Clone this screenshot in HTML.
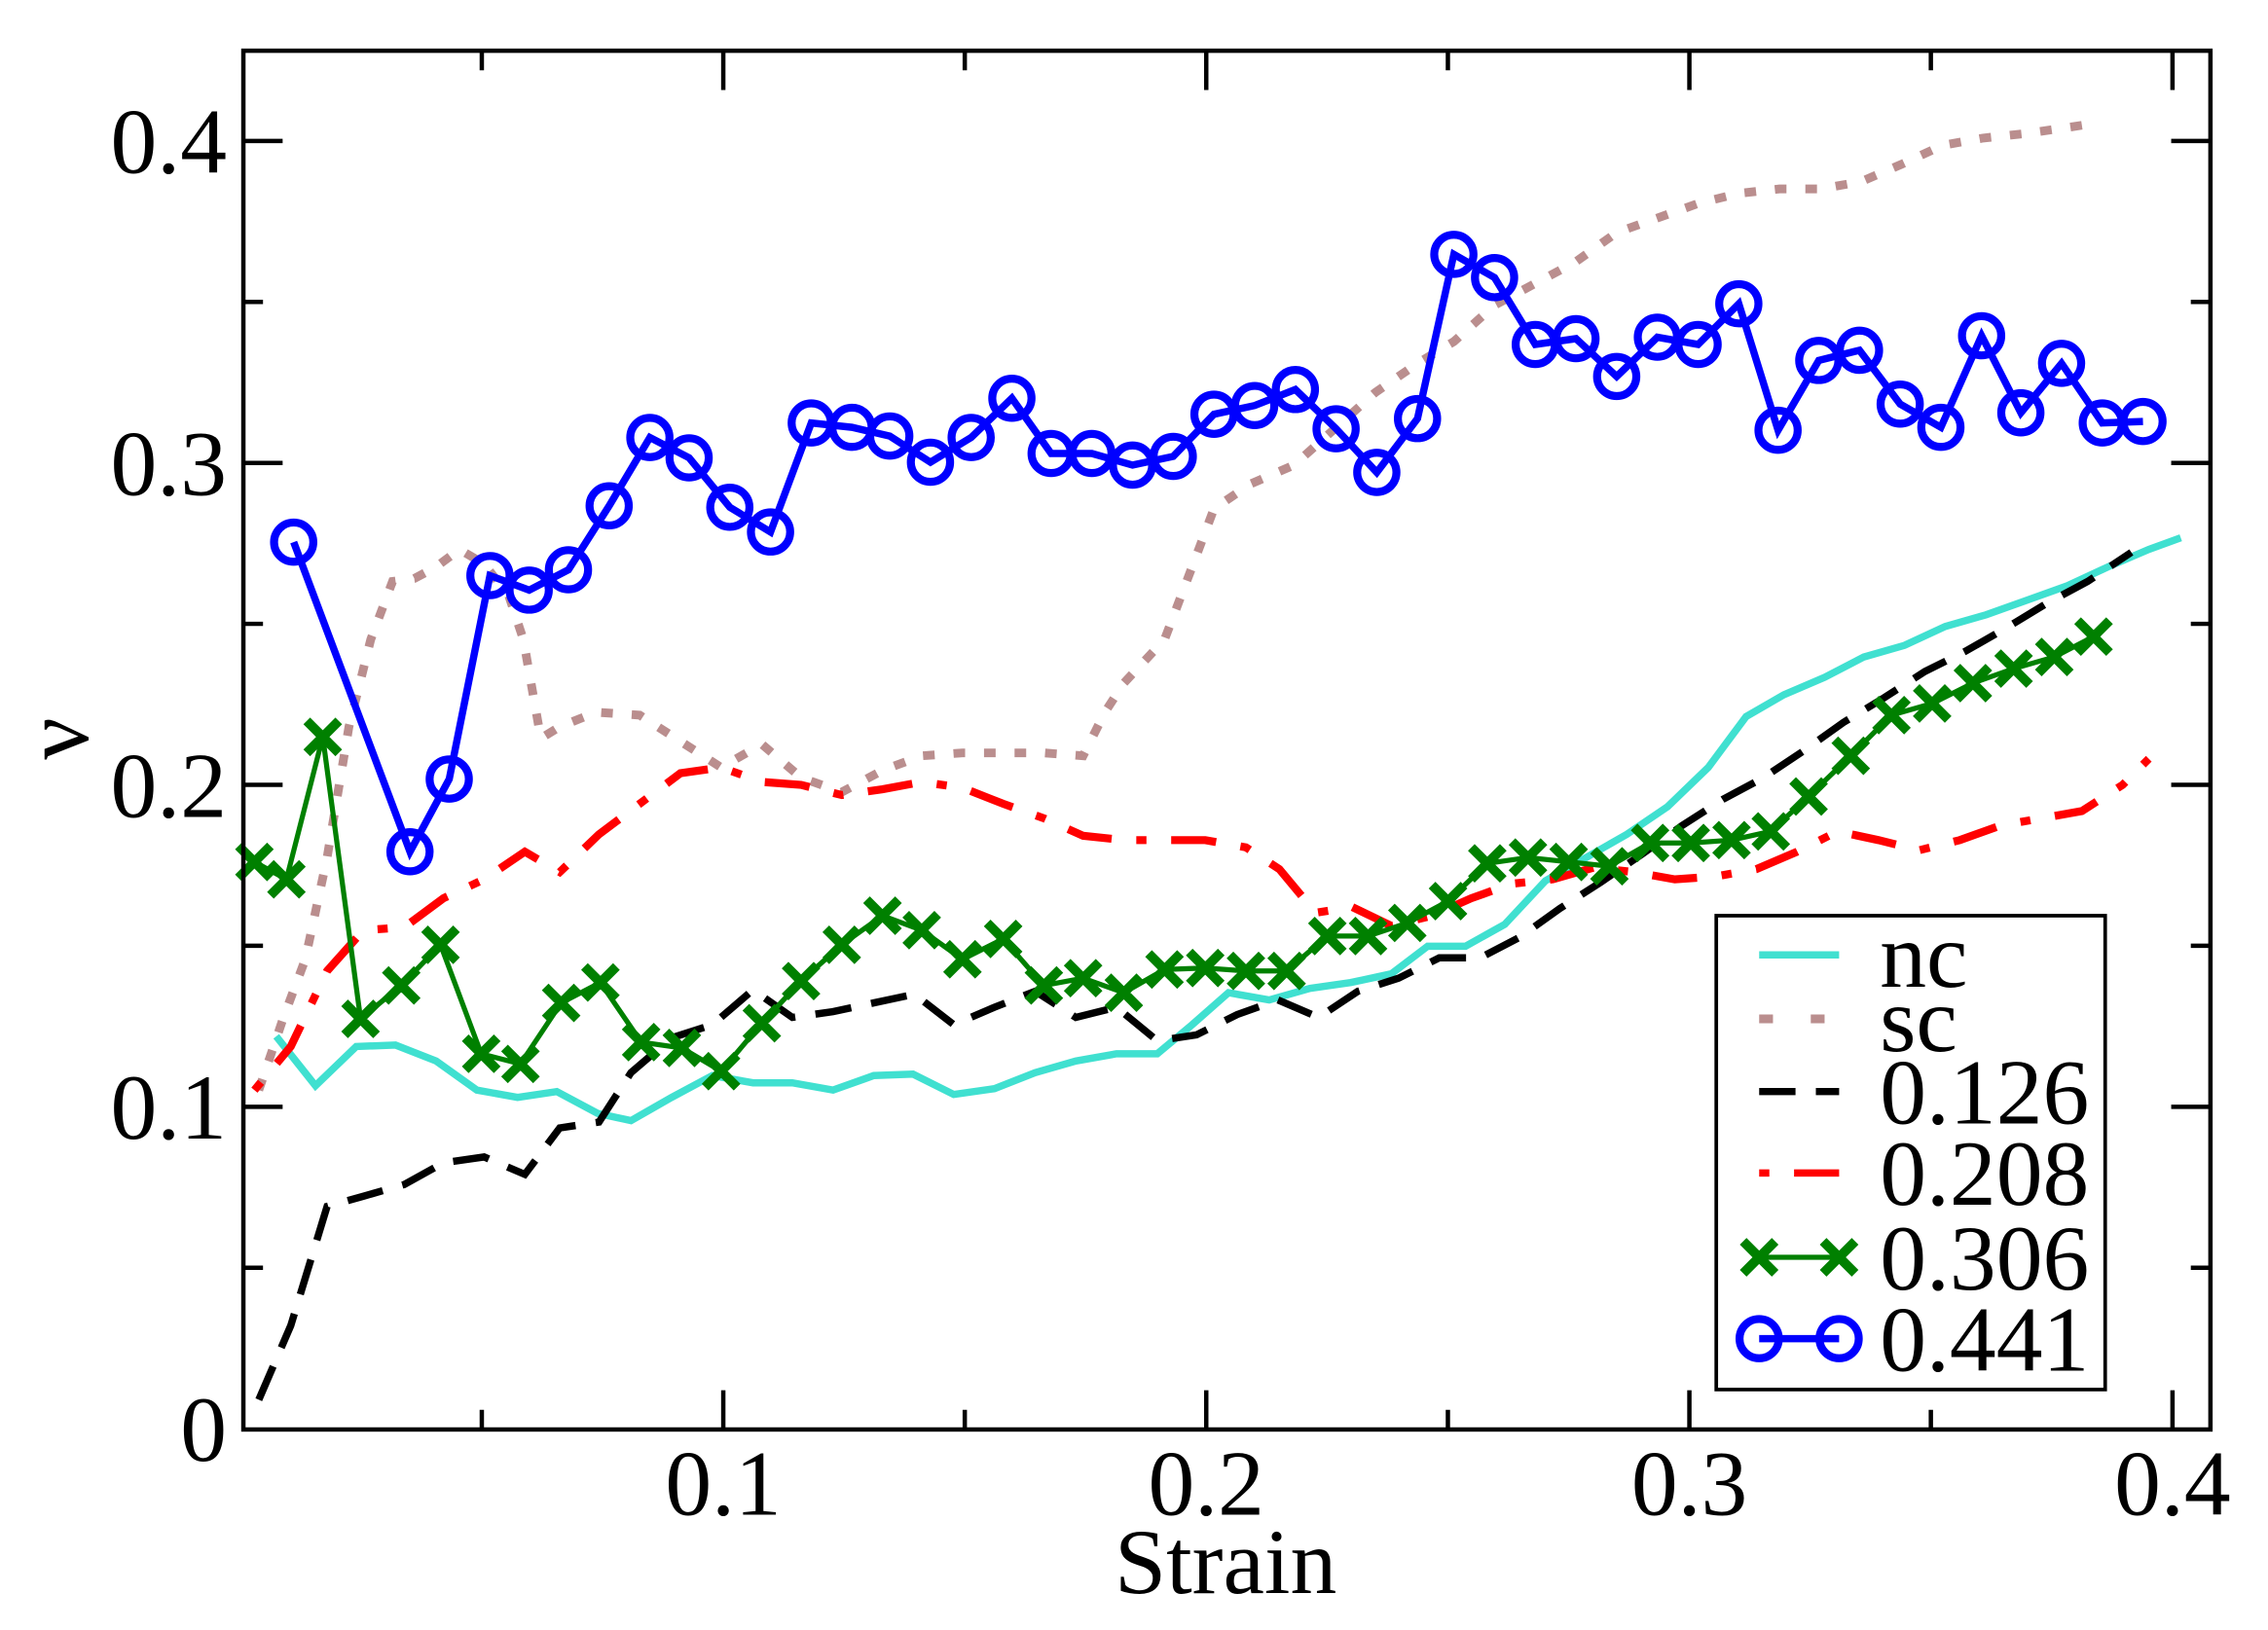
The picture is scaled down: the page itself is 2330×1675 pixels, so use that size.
<!DOCTYPE html>
<html><head><meta charset="utf-8">
<style>html,body{margin:0;padding:0;background:#fff;}svg{display:block;}text{font-family:"Liberation Serif","Tinos","Times New Roman","Nimbus Roman","Nimbus Roman No9 L","FreeSerif",Times,serif;}</style>
</head><body>
<svg width="2330" height="1675" viewBox="0 0 2330 1675" xmlns="http://www.w3.org/2000/svg">
<rect width="2330" height="1675" fill="#fff"/>
<text transform="translate(90,759) rotate(-90)" font-size="96" text-anchor="middle">ν</text>
<g transform="scale(1.4936)">
<g fill="none" stroke-linejoin="miter">
<polyline stroke="#ba8e8e" stroke-width="6" stroke-dasharray="8 13" points="178,750 195,700 210,660 225,590 240,500 255,440 270,400 285,398 300,390 316,378 333,388 350,410 360,440 372,508 385,500 410,490 440,492 468,510 496,528 524,512 551,535 579,545 607,530 634,520 662,518 690,518 718,518 745,520 760,490 773,470 801,440 820,390 835,350 860,333 890,320 918,295 946,270 975,250 1000,235 1028,210 1056,195 1084,180 1112,160 1140,150 1168,140 1196,133 1224,130 1252,130 1280,125 1308,113 1336,100 1364,95 1392,92 1420,88 1440,85"/>
<polyline stroke="#40e0d0" stroke-width="5" points="190,713 217,747 245,720 272,719 300,730 328,750 356,755 383,751 411,766 434,771 462,755 490,740 518,745 545,745 573,750 601,740 628,739 656,753 684,749 712,738 740,730 768,725 796,725 820,705 845,683 873,688 901,680 929,676 957,670 982,651 1008,651 1035,636 1063,606 1091,590 1119,574 1147,555 1175,528 1201,493 1227,478 1255,466 1282,452 1310,444 1338,431 1366,423 1394,413 1422,403 1450,390 1478,378 1500,370"/>
<polyline stroke="#000" stroke-width="5" stroke-dasharray="25 14" points="178,963 200,912 225,830 250,823 278,815 305,800 333,796 361,808 385,776 412,772 434,738 462,714 490,705 518,681 545,700 573,696 601,690 629,684 656,705 684,693 712,682 740,700 768,693 796,716 823,712 851,698 879,688 907,700 934,682 962,673 990,659 1018,659 1045,645 1073,625 1101,607 1129,588 1157,568 1185,550 1213,535 1240,517 1268,497 1296,480 1324,462 1352,448 1380,432 1408,415 1436,400 1466,380"/>
<polyline stroke="#f00" stroke-width="5.5" stroke-dasharray="7 17 31 17" points="175,750 200,720 225,668 250,640 278,638 305,618 333,605 361,586 385,600 412,574 440,553 468,532 496,528 524,538 551,540 579,547 607,543 634,538 662,542 690,553 718,563 745,575 773,578 801,578 829,578 857,583 880,598 905,628 930,624 957,637 985,630 1012,618 1040,608 1068,605 1096,597 1124,600 1152,605 1180,603 1208,598 1236,586 1264,572 1292,578 1320,585 1348,578 1376,568 1404,563 1432,558 1460,540 1478,522"/>
<polyline stroke="#008000" stroke-width="3.5" points="175,593 197,605 222,507 248,701 276,678 303,650 331,725 358,732 386,690 413,676 441,717 469,721 496,737 524,704 551,675 579,650 607,630 634,640 662,660 690,646 718,678 745,673 773,683 801,667 829,666 857,668 885,668 913,644 941,644 968,635 996,620 1023,594 1051,590 1079,593 1107,596 1135,580 1163,580 1191,578 1218,572 1244,548 1273,520 1301,492 1329,484 1357,470 1385,460 1413,452 1440,438"/>
<polyline stroke="#0000ff" stroke-width="5" points="202,373 282,586 309,536 337,396 364,406 391,392 419,348 447,301 474,315 502,349 530,366 558,291 586,294 612,300 640,318 668,301 696,274 723,312 751,312 779,320 807,314 835,285 863,279 891,268 919,295 947,325 975,288 1000,175 1028,191 1056,237 1084,233 1112,259 1140,232 1168,237 1196,209 1223,296 1251,248 1279,241 1307,278 1335,294 1363,231 1390,284 1418,250 1446,291 1474,290"/>
</g>
<g id="xm" stroke="#008000" stroke-width="6.5" fill="none"></g>
<g id="cm" stroke="#0000ff" stroke-width="5.5" fill="none"></g>
<g stroke="#000" stroke-width="3" fill="none">
<rect x="167.4" y="34.9" width="1353" height="948.6"/>
<path d="M167.4,97h27M167.4,318.5h27M167.4,540h27M167.4,761.5h27M167.4,207.7h13.5M167.4,429.2h13.5M167.4,650.7h13.5M167.4,872.2h13.5
M1520.4,97h-27M1520.4,318.5h-27M1520.4,540h-27M1520.4,761.5h-27M1520.4,207.7h-13.5M1520.4,429.2h-13.5M1520.4,650.7h-13.5M1520.4,872.2h-13.5
M497.5,983.5v-27M829.7,983.5v-27M1162,983.5v-27M1494.3,983.5v-27M331.4,983.5v-13.5M663.6,983.5v-13.5M995.9,983.5v-13.5M1328.1,983.5v-13.5
M497.5,34.9v27M829.7,34.9v27M1162,34.9v27M1494.3,34.9v27M331.4,34.9v13.5M663.6,34.9v13.5M995.9,34.9v13.5M1328.1,34.9v13.5"/>
</g>
<g font-size="64" fill="#000">
<g text-anchor="end">
<text x="156" y="119">0.4</text><text x="156" y="340.5">0.3</text><text x="156" y="562">0.2</text><text x="156" y="783.5">0.1</text><text x="156" y="1005">0</text>
</g>
<g text-anchor="middle">
<text x="497.5" y="1042">0.1</text><text x="829.7" y="1042">0.2</text><text x="1162" y="1042">0.3</text><text x="1494.3" y="1042">0.4</text>
<text x="843" y="1096">Strain</text>
</g>
</g>
<rect x="1180.5" y="630" width="267.5" height="326" fill="#fff" stroke="#000" stroke-width="2.5"/>
<g fill="none">
<line x1="1210" y1="657" x2="1265" y2="657" stroke="#40e0d0" stroke-width="5"/>
<line x1="1210" y1="701" x2="1265" y2="701" stroke="#ba8e8e" stroke-width="6" stroke-dasharray="9.5 26"/>
<line x1="1210" y1="751" x2="1265" y2="751" stroke="#000" stroke-width="5" stroke-dasharray="25 14"/>
<line x1="1210" y1="807" x2="1265" y2="807" stroke="#f00" stroke-width="5" stroke-dasharray="7 17 31 17"/>
<line x1="1210" y1="865" x2="1265" y2="865" stroke="#008000" stroke-width="3.5"/>
<path d="M1199,854l22,22M1199,876l22,-22M1254,854l22,22M1254,876l22,-22" stroke="#008000" stroke-width="6.5"/>
<line x1="1210" y1="921" x2="1265" y2="921" stroke="#0000ff" stroke-width="5"/>
<circle cx="1210" cy="921" r="13.5" stroke="#0000ff" stroke-width="5.5"/>
<circle cx="1265" cy="921" r="13.5" stroke="#0000ff" stroke-width="5.5"/>
</g>
<g font-size="64" fill="#000">
<text x="1293" y="679">nc</text><text x="1293" y="723">sc</text><text x="1293" y="773">0.126</text><text x="1293" y="829">0.208</text><text x="1293" y="887">0.306</text><text x="1293" y="943">0.441</text>
</g>
</g>
<script>
(function(){
var ns="http://www.w3.org/2000/svg";
function pts(s){return s.trim().split(/\s+/).map(function(p){return p.split(',').map(Number);});}
var polys=document.querySelectorAll('polyline');
var g=pts(polys[4].getAttribute('points')), b=pts(polys[5].getAttribute('points'));
var xm=document.getElementById('xm'), cm=document.getElementById('cm');
var d='';g.forEach(function(p){var x=p[0],y=p[1],r=11;d+='M'+(x-r)+','+(y-r)+'l'+2*r+','+2*r+'M'+(x-r)+','+(y+r)+'l'+2*r+','+(-2*r);});
var path=document.createElementNS(ns,'path');path.setAttribute('d',d);xm.appendChild(path);
b.forEach(function(p){var c=document.createElementNS(ns,'circle');c.setAttribute('cx',p[0]);c.setAttribute('cy',p[1]);c.setAttribute('r',13.5);cm.appendChild(c);});
})();
</script>
</svg>
</body></html>
